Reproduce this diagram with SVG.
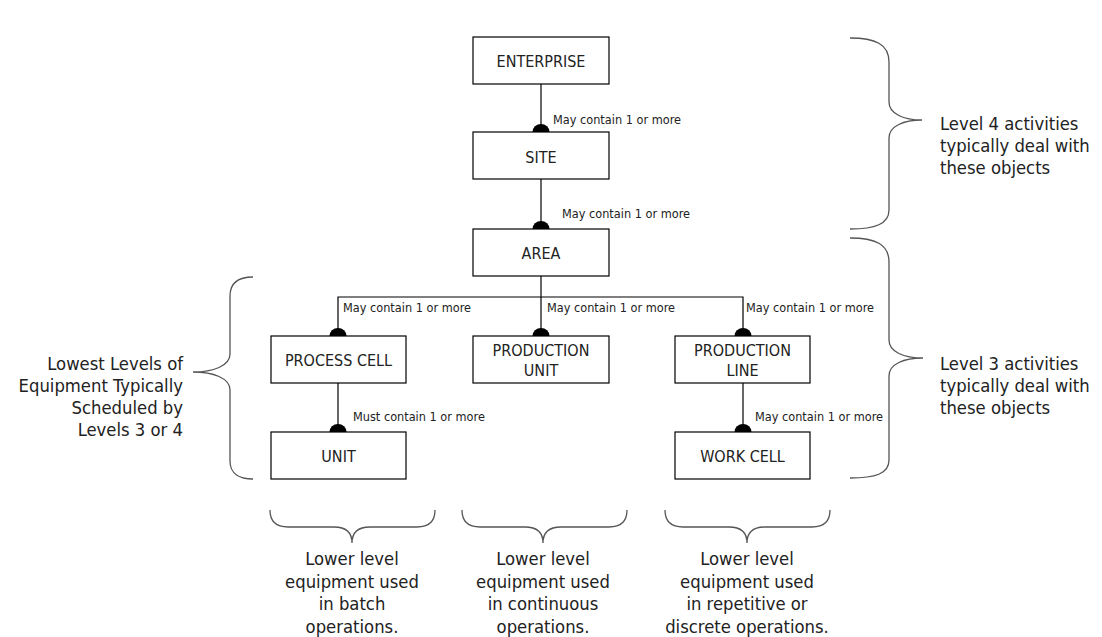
<svg xmlns="http://www.w3.org/2000/svg" width="1102" height="637" viewBox="0 0 1102 637">
<style>
.box{fill:#fff;stroke:#000;stroke-width:1.2}
.nl{font-family:"DejaVu Sans Condensed","DejaVu Sans",sans-serif;font-stretch:condensed;font-size:16px;fill:#222;text-anchor:middle}
.cl{font-family:"DejaVu Sans Condensed","DejaVu Sans",sans-serif;font-stretch:condensed;font-size:12.6px;fill:#222}
.big{font-family:"DejaVu Sans Condensed","DejaVu Sans",sans-serif;font-stretch:condensed;font-size:18.3px;fill:#222}
.line{stroke:#000;stroke-width:1.2;fill:none}
.dot{fill:#000}
.brace{stroke:#555;stroke-width:1.3;fill:none}
</style>
<rect width="1102" height="637" fill="#fff"/>
<g id="connectors">
<line class="line" x1="541" y1="84" x2="541" y2="132"/>
<path class="dot" d="M532.5,132 A8.5,8 0 0 1 549.5,132 Z"/>
<text class="cl" x="553" y="124">May contain 1 or more</text>
<line class="line" x1="541" y1="179" x2="541" y2="229"/>
<path class="dot" d="M532.5,229 A8.5,8 0 0 1 549.5,229 Z"/>
<text class="cl" x="562" y="218">May contain 1 or more</text>
<line class="line" x1="541" y1="276" x2="541" y2="336"/>
<polyline class="line" points="338,336 338,297 743,297 743,336"/>
<path class="dot" d="M329.5,336 A8.5,8 0 0 1 346.5,336 Z"/>
<path class="dot" d="M532.5,336 A8.5,8 0 0 1 549.5,336 Z"/>
<path class="dot" d="M734.5,336 A8.5,8 0 0 1 751.5,336 Z"/>
<text class="cl" x="343" y="312">May contain 1 or more</text>
<text class="cl" x="547" y="312">May contain 1 or more</text>
<text class="cl" x="746" y="312">May contain 1 or more</text>
<line class="line" x1="338" y1="383" x2="338" y2="432"/>
<path class="dot" d="M329.5,432 A8.5,8 0 0 1 346.5,432 Z"/>
<text class="cl" x="353" y="421">Must contain 1 or more</text>
<line class="line" x1="743" y1="383" x2="743" y2="432"/>
<path class="dot" d="M734.5,432 A8.5,8 0 0 1 751.5,432 Z"/>
<text class="cl" x="755" y="421">May contain 1 or more</text>
</g>
<g id="enterprise"><rect class="box" x="473" y="37" width="136" height="47"/><text class="nl" x="541" y="67">ENTERPRISE</text></g>
<g id="site"><rect class="box" x="473" y="132" width="136" height="47"/><text class="nl" x="541" y="163">SITE</text></g>
<g id="area"><rect class="box" x="473" y="229" width="136" height="47"/><text class="nl" x="541" y="259">AREA</text></g>
<g id="process-cell"><rect class="box" x="271" y="336" width="135" height="47"/><text class="nl" x="338.5" y="366">PROCESS CELL</text></g>
<g id="production-unit"><rect class="box" x="473" y="336" width="136" height="47"/><text class="nl" x="541" y="356">PRODUCTION</text><text class="nl" x="541" y="376">UNIT</text></g>
<g id="production-line"><rect class="box" x="675" y="336" width="135" height="47"/><text class="nl" x="742.5" y="356">PRODUCTION</text><text class="nl" x="742.5" y="376">LINE</text></g>
<g id="unit"><rect class="box" x="271" y="432" width="135" height="47"/><text class="nl" x="338.5" y="462">UNIT</text></g>
<g id="work-cell"><rect class="box" x="675" y="432" width="135" height="47"/><text class="nl" x="742.5" y="462">WORK CELL</text></g>
<g id="level4">
<path class="brace" d="M850,38 C875,38 889,44 889,62 L889,102 C889,114 904,120 922,120 C904,120 889,126 889,138 L889,210 C889,224 875,229 850,229"/>
<text class="big" x="940" y="130">Level 4 activities</text>
<text class="big" x="940" y="152">typically deal with</text>
<text class="big" x="940" y="174">these objects</text>
</g>
<g id="level3">
<path class="brace" d="M850,238 C875,238 889,244 889,262 L889,340 C889,352 904,358 923,358 C904,358 889,364 889,376 L889,460 C889,474 875,478 850,478"/>
<text class="big" x="940" y="370">Level 3 activities</text>
<text class="big" x="940" y="392">typically deal with</text>
<text class="big" x="940" y="414">these objects</text>
</g>
<g id="lowest">
<path class="brace" d="M253,277 C240,277 230,282 230,296 L230,354 C230,366 213,372 193,372 C213,372 230,378 230,390 L230,461 C230,474 240,479 253,479"/>
<text class="big" x="183" y="370" text-anchor="end">Lowest Levels of</text>
<text class="big" x="183" y="392" text-anchor="end">Equipment Typically</text>
<text class="big" x="183" y="414" text-anchor="end">Scheduled by</text>
<text class="big" x="183" y="436" text-anchor="end">Levels 3 or 4</text>
</g>
<g id="batch">
<path class="brace" d="M270,510 C270,522 276,527 288,527 L334,527 C345,527 352,532 352,543 C352,532 359,527 370,527 L417,527 C429,527 435,522 435,510"/>
<text class="big" x="352" y="565" text-anchor="middle">Lower level</text>
<text class="big" x="352" y="588" text-anchor="middle">equipment used</text>
<text class="big" x="352" y="610" text-anchor="middle">in batch</text>
<text class="big" x="352" y="633" text-anchor="middle">operations.</text>
</g>
<g id="continuous">
<path class="brace" d="M462,510 C462,522 468,527 480,527 L525,527 C536,527 543,532 543,543 C543,532 550,527 561,527 L609,527 C621,527 627,522 627,510"/>
<text class="big" x="543" y="565" text-anchor="middle">Lower level</text>
<text class="big" x="543" y="588" text-anchor="middle">equipment used</text>
<text class="big" x="543" y="610" text-anchor="middle">in continuous</text>
<text class="big" x="543" y="633" text-anchor="middle">operations.</text>
</g>
<g id="discrete">
<path class="brace" d="M665,510 C665,522 671,527 683,527 L729,527 C740,527 747,532 747,543 C747,532 754,527 765,527 L812,527 C824,527 830,522 830,510"/>
<text class="big" x="747" y="565" text-anchor="middle">Lower level</text>
<text class="big" x="747" y="588" text-anchor="middle">equipment used</text>
<text class="big" x="747" y="610" text-anchor="middle">in repetitive or</text>
<text class="big" x="747" y="633" text-anchor="middle">discrete operations.</text>
</g>
</svg>
